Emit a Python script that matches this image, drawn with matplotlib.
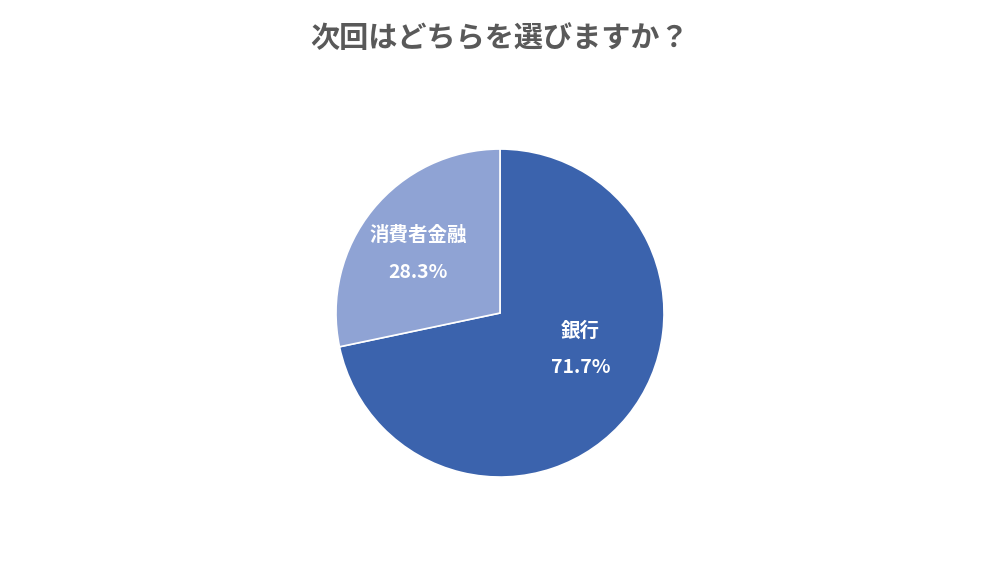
import matplotlib
matplotlib.use("Agg")
import matplotlib.pyplot as plt

plt.rcParams['font.family'] = ['Noto Sans CJK JP', 'DejaVu Sans']

categories = ["銀行", "消費者金融"]
values = [71.7, 28.3]
colors = ["#3b63ad", "#8fa3d4"]

fig = plt.figure(figsize=(10, 5.62), dpi=100)
fig.text(0.5, 1 - 38/562, "次回はどちらを選びますか？", ha="center", va="center",
         fontsize=21, fontweight="bold", color="#595959")
ax = fig.add_axes([0.5 - 0.205, 0.443 - 0.365, 0.41, 0.73])
ax.pie(values, colors=colors, startangle=90, counterclock=False,
       wedgeprops=dict(edgecolor="white", linewidth=1.2))
ax.set_aspect("equal")
pos = [(0.49, -0.22), (-0.5, 0.36)]
for (x, y), c, v in zip(pos, categories, values):
    ax.text(x, y, f"{c}\n\n{v}%", ha="center", va="center", color="white",
            fontsize=14, fontweight="bold", linespacing=0.95)
fig.savefig("out.png", dpi=100)
